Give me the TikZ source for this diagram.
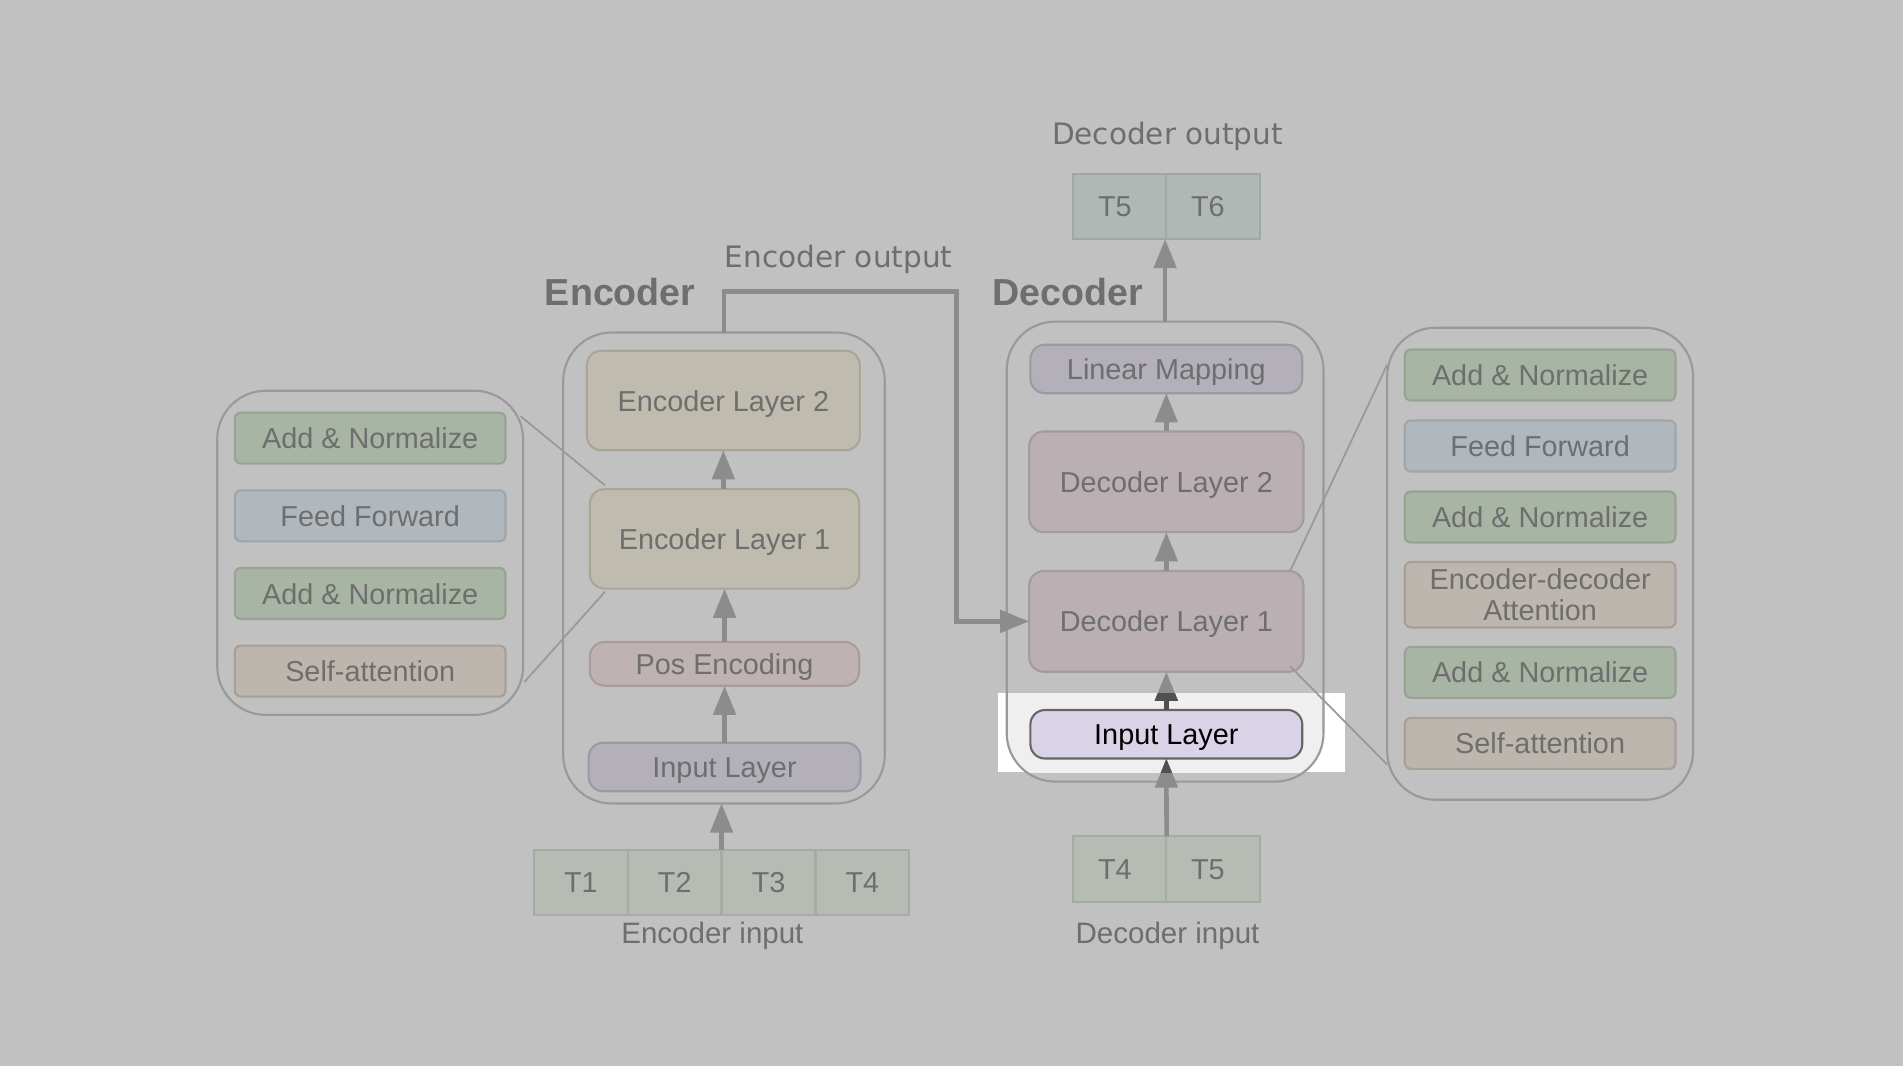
\documentclass[tikz,border=0pt]{standalone}
\usepackage{fontspec}
\setmainfont{Liberation Sans}
\newfontfamily\vfont{DejaVu Sans}
\usepackage{xcolor}
\definecolor{bggray}{HTML}{C1C1C1}
\definecolor{txtgray}{HTML}{6E6E6E}
\definecolor{framegray}{HTML}{999999}
\definecolor{flowgray}{HTML}{8C8C8C}
\definecolor{flowdark}{HTML}{505050}
\definecolor{normfill}{HTML}{A8B4A4}
\definecolor{normdraw}{HTML}{96A494}
\definecolor{fffill}{HTML}{B0B8BD}
\definecolor{ffdraw}{HTML}{9CA6AC}
\definecolor{attfill}{HTML}{BDB6AE}
\definecolor{attdraw}{HTML}{A89F97}
\definecolor{encfill}{HTML}{BFBBAE}
\definecolor{encdraw}{HTML}{AAA596}
\definecolor{posfill}{HTML}{BFB2B2}
\definecolor{posdraw}{HTML}{AA9C9C}
\definecolor{infill}{HTML}{B3B0BA}
\definecolor{indraw}{HTML}{9C99A6}
\definecolor{decfill}{HTML}{BAAFB3}
\definecolor{decdraw}{HTML}{A59A9F}
\definecolor{tokfill}{HTML}{B6BCB4}
\definecolor{tokdraw}{HTML}{A5ACA3}
\definecolor{outfill}{HTML}{B0B8B6}
\definecolor{outdraw}{HTML}{A0A8A6}
\definecolor{hlfill}{HTML}{DAD3E8}
\definecolor{hlinner}{HTML}{EFEFEF}
\usetikzlibrary{calc}
\usetikzlibrary{arrows.meta}
\newcommand{\boxfont}{\fontsize{8.2}{9.6}\selectfont}
\tikzset{
    common/.style={draw, line width=0.6pt, inner sep=0pt, outer sep=0pt, text=txtgray, font=\boxfont, align=center, text height=6.4pt, text depth=0.4pt},
    part/.style={common, rounded corners=0.61mm, minimum width=27.07mm, minimum height=5.10mm},
    layer/.style={common, rounded corners=1.46mm},
    frame/.style={draw=framegray, line width=0.6pt, rounded corners=4.85mm, inner sep=0pt, outer sep=0pt},
    token/.style={common, draw=tokdraw, fill=tokfill, minimum width=9.35mm, minimum height=6.55mm},
    outtoken/.style={token, draw=outdraw, fill=outfill},
    norm/.style={part, draw=normdraw, fill=normfill},
    ff/.style={part, draw=ffdraw, fill=fffill},
    att/.style={part, draw=attdraw, fill=attfill},
    title/.style={text=txtgray, font=\bfseries\fontsize{10.7}{12}\selectfont},
    caption/.style={text=txtgray, font=\vfont\fontsize{8.4}{10}\selectfont},
    flow/.style={draw=flowgray, line width=1.3pt, -{Triangle[length=8.3pt,width=6.3pt]}},
    zoomline/.style={draw=framegray, line width=0.5pt}
}

\begin{document}
\begin{tikzpicture}[x=0.12137mm, y=-0.12137mm]
    \fill[bggray] (0,0) rectangle (1568,878);
    \useasboundingbox (0,0) rectangle (1568,878);

    % highlighted part
    \coordinate (hlA) at (822,571);
    \coordinate (hlB) at (1108,636.5);
    \fill[white] (hlA) rectangle (hlB);
    \begin{scope}
        \clip (hlA) rectangle (hlB);
        \fill[hlinner, rounded corners=4.85mm] (829.5,265) rectangle (1090.5,644);
    \end{scope}

    % frames
    \node[frame, minimum width=30.59mm, minimum height=32.41mm] (encdet) at (305,455.5) {};
    \node[frame, minimum width=32.16mm, minimum height=47.09mm] (encbox) at (596.5,468) {};
    \node[frame, minimum width=31.68mm, minimum height=46.00mm] (decbox) at (960,454.5) {};
    \node[frame, minimum width=30.59mm, minimum height=47.21mm] (decdet) at (1269,464.5) {};

    \node[title] (enctitle) at (511,241) {Encoder};
    \node[title] (dectitle) at (880,241) {Decoder};

    % encoder
    \node[layer, draw=encdraw, fill=encfill, minimum width=27.31mm, minimum height=9.95mm] (encL2) at (596,330) {Encoder Layer 2};
    \node[layer, draw=encdraw, fill=encfill, minimum width=26.94mm, minimum height=9.95mm] (encL1) at (597,444) {Encoder Layer 1};
    \node[layer, draw=posdraw, fill=posfill, minimum width=26.94mm, minimum height=4.37mm] (encpos) at (597,547) {Pos Encoding};
    \node[layer, draw=indraw, fill=infill, minimum width=27.19mm, minimum height=4.85mm] (encin) at (597,632) {Input Layer};

    \node[norm] (el-n2) at (305,361) {Add \& Normalize};
    \node[ff]   (el-ff) at (305,425) {Feed Forward};
    \node[norm] (el-n1) at (305,489) {Add \& Normalize};
    \node[att]  (el-sa) at (305,553) {Self-attention};

    \foreach \i/\x in {1/478.6,2/556,3/633.3,4/710.6}
        \node[token] (t\i) at (\x,727) {T\i};
    \node[text=txtgray, font=\fontsize{8.4}{10}\selectfont] (encinlabel) at (587,771) {Encoder input};

    % decoder
    \node[layer, draw=indraw, fill=infill, minimum width=27.19mm, minimum height=4.85mm] (declin) at (961,304) {Linear Mapping};
    \node[layer, draw=decdraw, fill=decfill, minimum width=27.43mm, minimum height=10.07mm] (decL2) at (961,397) {Decoder Layer 2};
    \node[layer, draw=decdraw, fill=decfill, minimum width=27.43mm, minimum height=10.07mm] (decL1) at (961,512) {Decoder Layer 1};
    \node[layer, draw=black!60, fill=hlfill, text=black, minimum width=27.19mm, minimum height=4.85mm] (decin) at (961,605) {Input Layer};

    \node[norm] (dl-n3) at (1269,309) {Add \& Normalize};
    \node[ff]   (dl-ff) at (1269,367.5) {Feed Forward};
    \node[norm] (dl-n2) at (1269,426) {Add \& Normalize};
    \node[att, minimum height=6.55mm, text height=, text depth=] (dl-ed) at (1269,490) {Encoder-decoder\\[-1pt]Attention};
    \node[norm] (dl-n1) at (1269,554) {Add \& Normalize};
    \node[att]  (dl-sa) at (1269,612.5) {Self-attention};

    \node[token] (din4) at (922.7,716) {T4\hspace{2.8pt}};
    \node[token] (din5) at (999.3,716) {T5\hspace{2.8pt}};
    \node[text=txtgray, font=\fontsize{8.4}{10}\selectfont] (decinlabel) at (962,771) {Decoder input};
    \node[outtoken] (dout5) at (922.7,170) {T5\hspace{2.8pt}};
    \node[outtoken] (dout6) at (999.3,170) {T6\hspace{2.8pt}};
    \node[caption] (decoutlabel) at (962,112) {Decoder output};
    \node[caption] (encoutlabel) at (691,214) {Encoder output};

    % zoom lines
    \draw[zoomline] ($(encdet.north east)+(-2,21)$) -- ($(encL1.north west)+(12.5,-3)$);
    \draw[zoomline] ($(encdet.south east)+(1,-27)$) -- ($(encL1.south west)+(12.5,2.5)$);
    \draw[zoomline] ($(decL1.north east)+(-11,0)$) -- ($(decdet.north west)+(0,30.5)$);
    \draw[zoomline] ($(decL1.south east)+(-11,-4.5)$) -- ($(decdet.south west)+(0,-29)$);

    % connectors
    \coordinate (bend) at (788,240);
    \draw[flow] (encin) -- (encpos);
    \draw[flow] (encpos) -- (encL1);
    \draw[flow] (encL1.north -| encL2) -- (encL2);
    \draw[flow] (t2.north east) -- (t2.north east |- encbox.south);
    \draw[flow] (encbox.north) |- (bend) |- (decL1.west);
    \draw[flow] (decin) -- (decL1);
    \draw[flow] (decL1) -- (decL2);
    \draw[flow] (decL2) -- (declin);
    \draw[flow] (din4.north east) -- (decin.south);
    \draw[flow] (decbox.north) -- (decbox.north |- dout5.south);
    \begin{scope}
        \clip (hlA) rectangle (hlB);
        \draw[flow, draw=flowdark] (decin) -- (decL1);
        \draw[flow, draw=flowdark] (din4.north east) -- (decin.south);
    \end{scope}
\end{tikzpicture}
\end{document}
